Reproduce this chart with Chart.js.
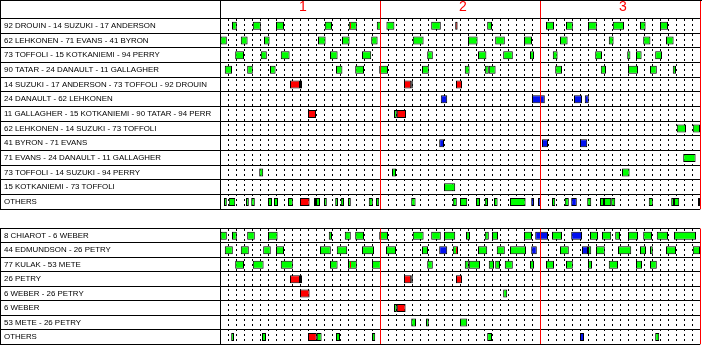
<!DOCTYPE html>
<html><head><meta charset="utf-8">
<script src="https://cdn.jsdelivr.net/npm/chart.js@4/dist/chart.umd.min.js"></script>
<style>
html,body{margin:0;padding:0;background:#fff;}
#wrap{position:relative;width:702px;height:349px;overflow:hidden;}
#c1{position:absolute;left:0;top:0;}
#c2{position:absolute;left:0;top:214px;}
</style></head><body>
<div id="wrap"><canvas id="c1" width="702" height="214"></canvas><canvas id="c2" width="702" height="135"></canvas></div>
<script>
// ---- categories ----
const topRows = [
  "92 DROUIN - 14 SUZUKI - 17 ANDERSON",
  "62 LEHKONEN - 71 EVANS - 41 BYRON",
  "73 TOFFOLI - 15 KOTKANIEMI - 94 PERRY",
  "90 TATAR - 24 DANAULT - 11 GALLAGHER",
  "14 SUZUKI - 17 ANDERSON - 73 TOFFOLI - 92 DROUIN",
  "24 DANAULT - 62 LEHKONEN",
  "11 GALLAGHER - 15 KOTKANIEMI - 90 TATAR - 94 PERR",
  "62 LEHKONEN - 14 SUZUKI - 73 TOFFOLI",
  "41 BYRON - 71 EVANS",
  "71 EVANS - 24 DANAULT - 11 GALLAGHER",
  "73 TOFFOLI - 14 SUZUKI - 94 PERRY",
  "15 KOTKANIEMI - 73 TOFFOLI",
  "OTHERS"
];
const bottomRows = [
  "8 CHIAROT - 6 WEBER",
  "44 EDMUNDSON - 26 PETRY",
  "77 KULAK - 53 METE",
  "26 PETRY",
  "6 WEBER - 26 PETRY",
  "6 WEBER",
  "53 METE - 26 PETRY",
  "OTHERS"
];
const periodLabels = ["1", "2", "3"];

// ---- shifts: [row, startMinute, endMinute] ----
const topGreen = [
  [0,1.5,2.1],[0,4.1,5.1],[0,7.0,8.0],[0,13.1,14.0],[0,16.1,17.1],[0,19.6,20.1],[0,20.8,21.8],[0,26.4,27.6],[0,33.4,34.0],[0,40.75,41.75],[0,43.25,44.1],[0,46.0,47.1],[0,49.1,50.5],[0,52.5,53.2],[0,55.0,56.0],
  [1,0,0.85],[1,2.6,3.45],[1,5.5,6.2],[1,12.25,13.2],[1,15.25,16.2],[1,18.9,19.7],[1,24.1,25.45],[1,31.0,32.2],[1,34.4,35.6],[1,38.0,39.0],[1,42.5,43.45],[1,48.6,49.2],[1,52.9,53.8],[1,55.75,56.7],
  [2,1.9,3.0],[2,5.1,5.85],[2,7.6,8.7],[2,13.75,14.7],[2,17.75,18.9],[2,25.9,26.6],[2,32.25,33.3],[2,35.4,36.6],[2,38.75,39.25],[2,41.6,42.2],[2,46.9,47.75],[2,50.9,51.3],[2,52.0,52.7],[2,54.4,55.25],
  [3,0.6,1.5],[3,3.4,4.1],[3,6.25,6.95],[3,14.5,15.3],[3,16.9,18.0],[3,19.9,21.0],[3,25.25,26.1],[3,30.6,31.2],[3,33.1,33.6],[3,33.6,34.45],[3,41.9,42.75],[3,47.6,48.25],[3,51.0,52.25],[3,53.75,54.6],[3,56.6,57.0],
  [4,10.0,10.25],[4,23.9,24.1],
  [6,21.75,22.1],
  [7,57.1,58.25],[7,59.1,60],
  [9,57.9,59.45],
  [10,4.9,5.4],[10,21.5,22.0],[10,50.25,51.2],
  [11,28.0,29.4],
  [12,0.5,0.85],[12,1.1,1.9],[12,3.25,3.6],[12,3.9,4.35],[12,6.0,6.5],[12,6.75,7.25],[12,8.5,9.1],[12,12.0,12.5],[12,13.0,13.35],[12,14.4,14.75],[12,15.1,15.5],[12,16.0,16.35],[12,18.6,19.1],[12,19.5,19.9],[12,23.9,24.45],[12,29.1,29.6],[12,30.0,30.9],[12,32.0,32.5],[12,33.1,33.5],[12,34.25,34.7],[12,36.25,38.2],[12,41.5,41.9],[12,43.1,43.6],[12,45.9,46.4],[12,47.5,48.0],[12,48.0,48.9],[12,48.9,49.4],[12,53.6,54.1],[12,56.4,56.75],[12,56.75,57.4],[12,59.75,60]
];
const topRed = [
  [0,29.4,29.7],
  [4,8.75,10.0],[4,23.0,23.9],[4,29.5,30.25],
  [6,11.0,12.0],[6,22.1,23.25],
  [12,10.0,11.2],[12,11.75,12.0]
];
const topBlue = [
  [5,27.6,28.4],[5,39.0,40.6],[5,44.25,45.25],[5,45.6,46.1],
  [8,27.4,28.0],[8,40.25,41.0],[8,45.0,45.9],
  [12,38.9,39.25],[12,39.75,40.1],[12,43.9,44.6]
];
const topMarks = [[0,16.25,16.375]];

const bottomGreen = [
  [0,0,0.85],[0,1.5,2.1],[0,3.4,4.35],[0,6.0,7.2],[0,13.6,14.0],[0,15.6,16.35],[0,16.9,18.0],[0,19.9,21.0],[0,24.1,25.45],[0,26.4,27.6],[0,28.0,29.4],[0,30.75,31.25],[0,33.1,33.6],[0,34.0,34.75],[0,38.0,39.0],[0,41.5,42.75],[0,46.25,47.25],[0,47.75,48.9],[0,49.4,50.0],[0,51.0,52.25],[0,52.9,54.0],[0,54.6,56.0],[0,56.75,59.5],
  [1,0.6,1.6],[1,2.6,3.6],[1,5.4,6.35],[1,7.0,8.0],[1,12.5,13.85],[1,14.6,15.9],[1,17.75,19.25],[1,20.75,22.0],[1,25.25,26.0],[1,29.1,29.75],[1,32.25,33.4],[1,34.6,35.6],[1,36.25,38.25],[1,42.5,43.6],[1,46.0,46.4],[1,47.0,48.1],[1,49.75,51.4],[1,52.5,53.25],[1,53.75,54.1],[1,55.75,57.0],[1,59.1,60],
  [2,1.9,3.0],[2,4.1,5.45],[2,7.6,9.1],[2,13.75,14.7],[2,16.0,17.1],[2,19.0,20.1],[2,25.9,26.6],[2,30.6,31.1],[2,31.1,32.5],[2,33.6,34.25],[2,34.4,35.0],[2,35.6,36.6],[2,38.75,39.25],[2,40.75,41.75],[2,43.25,44.1],[2,46.0,46.5],[2,48.6,49.75],[2,52.0,52.75],[2,53.75,54.6],
  [3,10.0,10.25],[3,23.9,24.1],
  [4,35.4,35.9],
  [5,21.75,22.1],
  [6,23.9,24.5],[6,25.75,26.1],[6,30.0,30.9],
  [7,1.4,1.75],[7,5.25,5.75],[7,12.1,12.7],[7,14.5,15.0],[7,19.0,19.4],[7,33.4,34.0],[7,54.4,54.9]
];
const bottomRed = [
  [3,8.75,10.0],[3,23.0,23.9],[3,29.5,30.25],
  [4,10.0,11.2],
  [5,22.1,23.2],
  [7,11.0,12.1]
];
const bottomBlue = [
  [0,39.4,41.0],[0,43.9,45.25],
  [1,27.4,28.4],[1,38.9,39.6],[1,45.25,46.0],
  [7,45.0,45.5]
];
const bottomMarks = [[1,29.5,29.625],[2,16.25,16.375]];

// ---- rendering ----
const GREEN = '#00ff00', RED = '#ff0000', BLUE = '#0010f0';
const LABEL_FONT = '"Liberation Sans", Arial, sans-serif';

function toBars(list, rows) {
  return list.map(([r, s, e]) => ({ x: [s, e], y: rows[r] }));
}

function framePlugin(header) {
  return {
    id: 'frame',
    afterDraw(chart) {
      const { ctx, chartArea: ca } = chart;
      const ys = chart.scales.y;
      const al = p => Math.round(p - 0.5) + 0.5;
      ctx.save();
      ctx.strokeStyle = '#000';
      ctx.lineWidth = 1;
      ctx.beginPath();
      for (let i = 0; i <= ys.ticks.length; i++) {
        const py = al(ys.getPixelForValue(i - 0.5));
        ctx.moveTo(0, py); ctx.lineTo(ca.left, py);
      }
      const top = header ? 0 : ca.top;
      ctx.moveTo(0.5, top); ctx.lineTo(0.5, al(ca.bottom) + 0.5);
      if (header) { ctx.moveTo(0, 0.5); ctx.lineTo(chart.width, 0.5); }
      ctx.stroke();
      ctx.restore();
    }
  };
}

function makeChart(canvas, rows, green, red, blue, marks, header) {
  const datasets = [
    { label: 'mark', data: toBars(marks, rows), backgroundColor: RED, borderWidth: 0, barThickness: 6, order: 0 },
    { label: 'red', data: toBars(red, rows), backgroundColor: RED, borderColor: '#000', borderWidth: 1, order: 1 },
    { label: 'blue', data: toBars(blue, rows), backgroundColor: BLUE, borderColor: '#000', borderWidth: 1, order: 1 },
    { label: 'green', data: toBars(green, rows), backgroundColor: GREEN, borderColor: '#000', borderWidth: 1, order: 2 }
  ];
  return new Chart(canvas, {
    type: 'bar',
    data: { labels: rows, datasets },
    options: {
      indexAxis: 'y',
      responsive: false,
      animation: false,
      events: [],
      layout: { padding: { left: 4, right: 2, top: header ? 0 : 14.5, bottom: 0.5 } },
      plugins: { legend: { display: false }, tooltip: { enabled: false } },
      datasets: { bar: { grouped: false, barThickness: 8, borderSkipped: false, inflateAmount: 0 } },
      scales: {
        x: {
          type: 'linear', position: 'top', min: 0, max: 60,
          afterFit: s => { s.height = header ? 18.5 : 0; },
          border: { display: false, dash: [2, 3] },
          grid: {
            color: '#000', lineWidth: 1, drawTicks: header, tickLength: 18,
            tickColor: c => { const v = c.tick.value; return v === 0 ? '#000' : (v % 20 === 0 ? RED : 'rgba(0,0,0,0)'); }
          },
          ticks: {
            display: header, stepSize: 1, autoSkip: false, maxRotation: 0, minRotation: 0,
            padding: -13.5, labelOffset: 3, color: RED,
            font: { family: '"Liberation Sans", sans-serif', size: 14, lineHeight: 1 },
            callback: v => (v % 20 === 10 ? periodLabels[(v - 10) / 20] : '')
          }
        },
        xp: {
          type: 'linear', position: 'bottom', min: 0, max: 60,
          afterFit: s => { s.height = 0; },
          border: { display: false },
          ticks: { display: false, stepSize: 20 },
          grid: { z: 1, drawTicks: false, lineWidth: 1, color: c => (c.tick.value === 0 ? 'rgba(0,0,0,0)' : RED) }
        },
        y: {
          type: 'category', position: 'left', offset: true,
          afterFit: s => { s.width = 216; },
          border: { display: true, color: '#000', width: 1 },
          grid: { offset: true, color: '#000', lineWidth: 1, drawTicks: false },
          ticks: { crossAlign: 'far', autoSkip: false, color: '#000', padding: 0, font: { family: LABEL_FONT, size: 7.9 } }
        }
      }
    },
    plugins: [framePlugin(header)]
  });
}

makeChart(document.getElementById('c1'), topRows, topGreen, topRed, topBlue, topMarks, true);
makeChart(document.getElementById('c2'), bottomRows, bottomGreen, bottomRed, bottomBlue, bottomMarks, false);
</script>
</body></html>
